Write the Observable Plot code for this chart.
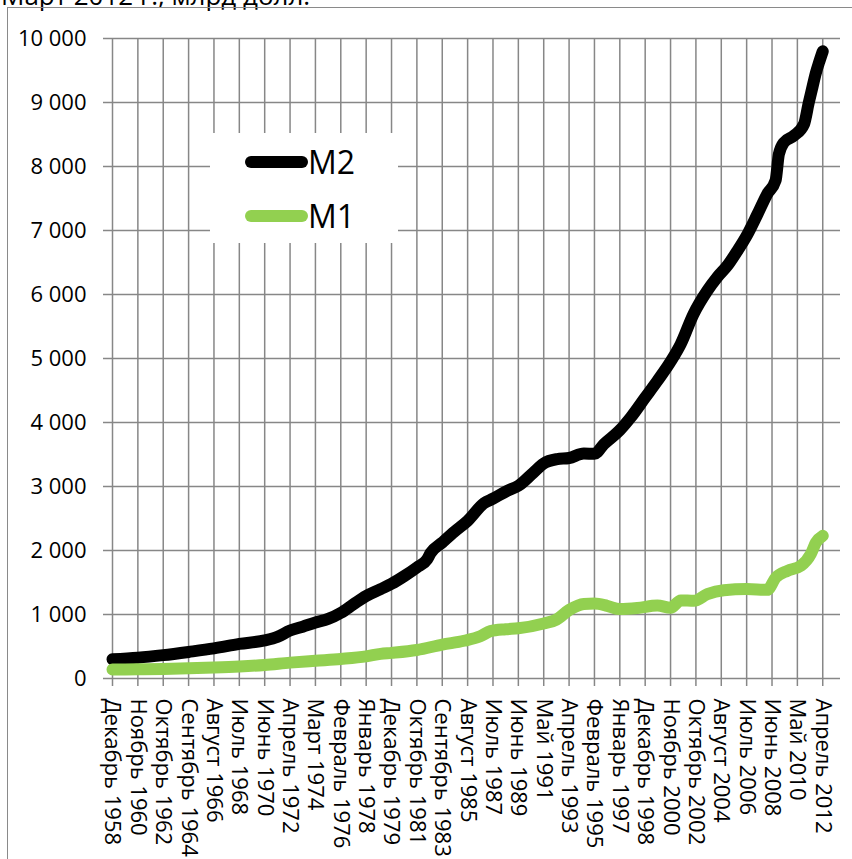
<!DOCTYPE html>
<html>
<head>
<meta charset="utf-8">
<script src="https://cdn.jsdelivr.net/npm/d3@7"></script>
<script src="https://cdn.jsdelivr.net/npm/@observablehq/plot@0.6"></script>
<style>
  html, body { margin: 0; padding: 0; background: white; }
  body { position: relative; width: 852px; height: 859px; overflow: hidden; font-family: "Open Sans", sans-serif; }
  #title { position: absolute; left: 1px; top: -18px; font-size: 26px; line-height: 26px; white-space: nowrap; color: black; }
  #frame { position: absolute; left: 7px; top: 7px; width: 1000px; height: 1000px; border: 1.5px solid #8a8a8a; box-sizing: border-box; pointer-events: none; }
  #chart { position: absolute; left: 0; top: 0; }
  #legend { position: absolute; left: 210px; top: 133px; width: 188px; height: 110px; background: white; }
  .lg-line { position: absolute; left: 35px; width: 63px; height: 12px; border-radius: 6px; }
  .lg-text { position: absolute; left: 98px; font-size: 32px; line-height: 32px; color: black; }
</style>
</head>
<body>
<div id="title">Март 2012 г., млрд долл.</div>
<div id="chart"></div>
<div id="frame"></div>
<div id="legend"></div>
<script>
// Category labels on the x axis (one per gridline)
const xLabels = [
  "Декабрь 1958", "Ноябрь 1960", "Октябрь 1962", "Сентябрь 1964", "Август 1966",
  "Июль 1968", "Июнь 1970", "Апрель 1972", "Март 1974", "Февраль 1976",
  "Январь 1978", "Декабрь 1979", "Октябрь 1981", "Сентябрь 1983", "Август 1985",
  "Июль 1987", "Июнь 1989", "Май 1991", "Апрель 1993", "Февраль 1995",
  "Январь 1997", "Декабрь 1998", "Ноябрь 2000", "Октябрь 2002", "Август 2004",
  "Июль 2006", "Июнь 2008", "Май 2010", "Апрель 2012"
];
const yTicks = [0, 1000, 2000, 3000, 4000, 5000, 6000, 7000, 8000, 9000, 10000];
const yTickLabels = ["0", "1 000", "2 000", "3 000", "4 000", "5 000", "6 000", "7 000", "8 000", "9 000", "10 000"];

const seriesNames = ["M2", "M1"];
const seriesColors = ["#000000", "#92D050"];

// M2: position along the category axis (in label steps) and value, bn USD
const m2Pos = [0, 1, 2, 3, 4, 5, 6, 6.5, 7, 7.5, 8, 8.5, 9, 9.5, 10, 10.57, 11, 11.5, 12, 12.4, 12.54,
  13, 13.5, 14, 14.65, 15, 15.56, 16, 16.6, 17, 17.53, 18, 18.58, 19, 19.37, 20, 20.43, 21, 21.48,
  22, 22.4, 22.9, 23.45, 23.84, 24.24, 24.63, 25.03, 25.42, 25.81, 26.14, 26.27, 26.47, 26.86,
  27.26, 27.45, 27.6, 27.72, 27.85, 28];
const m2Val = [300, 325, 365, 415, 470, 540, 595, 650, 750, 810, 875, 930, 1025, 1160, 1290, 1397, 1480, 1600, 1735, 1860, 1960,
  2125, 2300, 2464, 2740, 2810, 2933, 3011, 3220, 3360, 3428, 3445, 3515, 3510, 3660, 3880, 4080, 4390, 4650,
  4950, 5225, 5690, 6060, 6270, 6450, 6680, 6940, 7250, 7570, 7780, 8190, 8375, 8480,
  8660, 9000, 9250, 9450, 9620, 9800];

// M1
const m1Pos = [0, 1, 2, 3, 4, 5, 6, 7, 8, 9, 10, 10.57, 11, 12, 13, 13.86, 14.5, 14.9, 15.5, 16, 17, 17.5,
  18, 18.58, 19, 19.5, 20, 20.69, 21.48, 22, 22.4, 22.92, 23.45, 24.1, 25, 25.81, 26.15, 26.61,
  27.14, 27.53, 27.73, 28];
const m1Val = [140, 145, 150, 160, 172, 188, 212, 248, 277, 305, 345, 385, 400, 445, 530, 590, 660, 740, 770, 785, 860, 920,
  1070, 1165, 1170, 1136, 1084, 1100, 1140, 1105, 1220, 1214, 1319, 1380, 1397, 1385, 1578, 1683,
  1761, 1944, 2125, 2230];

const m2 = m2Pos.map((p, i) => ({pos: p, value: m2Val[i]}));
const m1 = m1Pos.map((p, i) => ({pos: p, value: m1Val[i]}));
const xTickIdx = xLabels.map((_, i) => i);
const gridColor = "#878787";

const chart = Plot.plot({
  width: 852,
  height: 859,
  marginLeft: 112,
  marginRight: 12,
  marginTop: 38,
  marginBottom: 181,
  style: { fontFamily: "Open Sans, sans-serif", fontSize: "22px", color: "black", background: "transparent", overflow: "visible" },
  x: { domain: [0, 28.7], axis: null },
  y: { domain: [0, 10000], axis: null },
  marks: [
    Plot.ruleY(yTicks, { stroke: gridColor, strokeWidth: 1.5 }),
    Plot.ruleX(xTickIdx, { stroke: gridColor, strokeWidth: 1.5 }),
    Plot.axisY({ ticks: yTicks, tickFormat: d => yTickLabels[yTicks.indexOf(d)], tickSize: 9, tickPadding: 17, stroke: gridColor, strokeWidth: 1.5, fill: "black", label: null }),
    Plot.axisX({ ticks: xTickIdx, tickFormat: d => xLabels[d], tickRotate: 90, tickSize: 8, tickPadding: 12, stroke: gridColor, strokeWidth: 1.5, fill: "black", label: null }),
    Plot.line(m2, { x: "pos", y: "value", stroke: seriesColors[0], strokeWidth: 12, strokeLinecap: "round", strokeLinejoin: "round", curve: "monotone-x" }),
    Plot.line(m1, { x: "pos", y: "value", stroke: seriesColors[1], strokeWidth: 12, strokeLinecap: "round", strokeLinejoin: "round", curve: "monotone-x" })
  ]
});
document.getElementById("chart").appendChild(chart);

// Legend
const legend = document.getElementById("legend");
seriesNames.forEach((name, i) => {
  const line = document.createElement("div");
  line.className = "lg-line";
  line.style.top = (i === 0 ? 23 : 77) + "px";
  line.style.background = seriesColors[i];
  legend.appendChild(line);
  const t = document.createElement("div");
  t.className = "lg-text";
  t.style.top = (i === 0 ? 13 : 67) + "px";
  t.textContent = name;
  legend.appendChild(t);
});
</script>
</body>
</html>
